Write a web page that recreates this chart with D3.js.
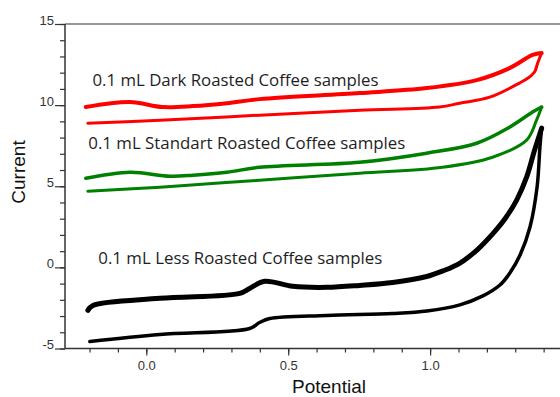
<!DOCTYPE html>
<html>
<head>
<meta charset="utf-8">
<script src="https://cdn.jsdelivr.net/npm/d3@7"></script>
<style>
  html, body { margin: 0; padding: 0; background: #fff; }
  svg { display: block; }
</style>
</head>
<body>
<svg id="chart" width="560" height="397"></svg>
<script>
// ---- data ----
const xMajorTicks = [0.0, 0.5, 1.0];
const xMinorTicks = [-0.2, -0.1, 0.0, 0.1, 0.2, 0.3, 0.4, 0.5, 0.6, 0.7, 0.8, 0.9, 1.0, 1.1, 1.2, 1.3, 1.4];
const yMajorTicks = [-5, 0, 5, 10, 15];
const yMinorTicks = [-5, -4, -3, -2, -1, 0, 1, 2, 3, 4, 5, 6, 7, 8, 9, 10, 11, 12, 13, 14, 15];

const sampleLabels = [
  "0.1 mL Dark Roasted Coffee samples",
  "0.1 mL Standart Roasted Coffee samples",
  "0.1 mL Less Roasted Coffee samples"
];

// Dark roasted (red): upper branch and lower branch
const darkUpperPotential = [-0.213, -0.058, 0.058, 0.165, 0.284, 0.399, 0.752, 0.988, 1.164, 1.280, 1.361, 1.393];
const darkUpperCurrent   = [9.88, 10.19, 9.88, 9.94, 10.12, 10.37, 10.74, 11.05, 11.54, 12.28, 13.09, 13.21];
const darkLowerPotential = [-0.206, 0.048, 0.399, 0.752, 1.033, 1.104, 1.210, 1.315, 1.345, 1.368, 1.379, 1.393];
const darkLowerCurrent   = [8.89, 9.07, 9.38, 9.69, 9.88, 10.12, 10.49, 11.36, 11.67, 12.04, 12.59, 13.21];

// Standard roasted (green)
const stdUpperPotential = [-0.213, -0.058, 0.083, 0.165, 0.284, 0.399, 0.752, 0.988, 1.164, 1.280, 1.361, 1.393];
const stdUpperCurrent   = [5.49, 5.86, 5.62, 5.68, 5.86, 6.17, 6.48, 7.04, 7.65, 8.64, 9.57, 9.88];
const stdLowerPotential = [-0.206, 0.048, 0.399, 0.752, 1.044, 1.220, 1.340, 1.375, 1.393];
const stdLowerCurrent   = [4.69, 4.94, 5.37, 5.80, 6.17, 6.79, 7.84, 9.07, 9.88];

// Less roasted (black)
const lessUpperPotential = [-0.206, -0.188, 0.048, 0.329, 0.364, 0.417, 0.516, 0.636, 0.752, 0.868, 0.988, 1.045, 1.104, 1.165, 1.222, 1.264, 1.305, 1.340, 1.368, 1.393];
const lessUpperCurrent   = [-2.65, -2.35, -1.91, -1.60, -1.30, -0.86, -1.17, -1.23, -1.11, -0.93, -0.56, -0.22, 0.25, 1.07, 2.10, 3.00, 4.15, 5.56, 7.22, 8.58];
const lessLowerPotential = [-0.199, 0.048, 0.364, 0.399, 0.435, 0.636, 0.868, 0.989, 1.105, 1.186, 1.246, 1.281, 1.317, 1.352, 1.377, 1.387, 1.393];
const lessLowerCurrent   = [-4.57, -4.14, -3.77, -3.40, -3.15, -2.96, -2.84, -2.69, -2.31, -1.76, -1.09, -0.35, 0.76, 2.49, 4.96, 7.43, 8.58];

// ---- chart ----
const svg = d3.select("#chart");
const x = d3.scaleLinear().domain([-0.2865, 1.4577]).range([65, 560]);
const y = d3.scaleLinear().domain([-5, 15]).range([348.5, 24]);

const tickFont = "'Liberation Sans', Arial, sans-serif";
const tickColor = "#333";

// top frame line
svg.append("line").attr("x1", 65).attr("x2", 560).attr("y1", y(15)).attr("y2", y(15))
  .attr("stroke", "#333").attr("stroke-width", 1.2);

// x axis ticks
const gxMinor = svg.append("g").attr("transform", `translate(0,${y(-5)})`)
  .call(d3.axisBottom(x).tickValues(xMinorTicks).tickSize(4).tickFormat(""));
gxMinor.select(".domain").remove();
gxMinor.selectAll("line").attr("stroke", "#333").attr("stroke-width", 1.2);

const gxMajor = svg.append("g").attr("transform", `translate(0,${y(-5)})`)
  .call(d3.axisBottom(x).tickValues(xMajorTicks).tickSize(7).tickFormat(d3.format(".1f")));
gxMajor.select(".domain").remove();
gxMajor.selectAll("line").attr("stroke", "#333").attr("stroke-width", 1.2);
gxMajor.selectAll("text").attr("y", 21.5).attr("dy", "0")
  .attr("font-family", tickFont).attr("font-size", 13).attr("fill", tickColor);

// y axis ticks
const gyMinor = svg.append("g").attr("transform", `translate(65,0)`)
  .call(d3.axisLeft(y).tickValues(yMinorTicks).tickSize(5).tickFormat(""));
gyMinor.select(".domain").remove();
gyMinor.selectAll("line").attr("stroke", "#333").attr("stroke-width", 1.2);

const gyMajor = svg.append("g").attr("transform", `translate(65,0)`)
  .call(d3.axisLeft(y).tickValues(yMajorTicks).tickSize(10).tickFormat(d3.format("d")));
gyMajor.select(".domain").remove();
gyMajor.selectAll("line").attr("stroke", "#333").attr("stroke-width", 1.2);
gyMajor.selectAll("text").attr("x", -11).attr("dy", "0")
  .attr("font-family", tickFont).attr("font-size", 13).attr("fill", tickColor)
  .text(d => d < 0 ? "-" + Math.abs(d) : d);

// axis lines
svg.append("line").attr("x1", 65).attr("x2", 560).attr("y1", y(-5)).attr("y2", y(-5))
  .attr("stroke", "#333").attr("stroke-width", 1.5);
svg.append("line").attr("x1", 65).attr("x2", 65).attr("y1", y(15)).attr("y2", y(-5))
  .attr("stroke", "#333").attr("stroke-width", 1.5);

// axis titles
svg.append("text").attr("x", 329).attr("y", 393).attr("text-anchor", "middle")
  .attr("font-family", tickFont).attr("font-size", 19).attr("fill", "#111").text("Potential");
svg.append("text").attr("transform", "translate(25,172) rotate(-90)").attr("text-anchor", "middle")
  .attr("font-family", tickFont).attr("font-size", 19).attr("fill", "#111").text("Current");

// curves
const line = d3.line().x(d => x(d[0])).y(d => y(d[1])).curve(d3.curveCatmullRom.alpha(0.5));
function branch(px, cy, color, width) {
  const pts = px.map((p, i) => [p, cy[i]]);
  svg.append("path").attr("d", line(pts)).attr("fill", "none")
    .attr("stroke", color).attr("stroke-width", width)
    .attr("stroke-linejoin", "round").attr("stroke-linecap", "round");
}
branch(darkUpperPotential, darkUpperCurrent, "#ff0000", 4);
branch(darkLowerPotential, darkLowerCurrent, "#ff0000", 3);
branch(stdUpperPotential, stdUpperCurrent, "#008000", 3.5);
branch(stdLowerPotential, stdLowerCurrent, "#008000", 3);
branch(lessUpperPotential, lessUpperCurrent, "#000000", 5);
branch(lessLowerPotential, lessLowerCurrent, "#000000", 3.5);

// labels
const labelFont = "'Open Sans', 'Noto Sans', sans-serif";
const labelPos = [[92.5, 86], [88.3, 149], [98.3, 264]];
const labelWidth = [286, 317, 284];
sampleLabels.forEach((t, i) => {
  svg.append("text").attr("x", labelPos[i][0]).attr("y", labelPos[i][1])
    .attr("font-family", labelFont).attr("font-size", 16).attr("fill", "#1e1e1e")
    .attr("textLength", labelWidth[i]).attr("lengthAdjust", "spacingAndGlyphs")
    .text(t);
});
</script>
</body>
</html>
